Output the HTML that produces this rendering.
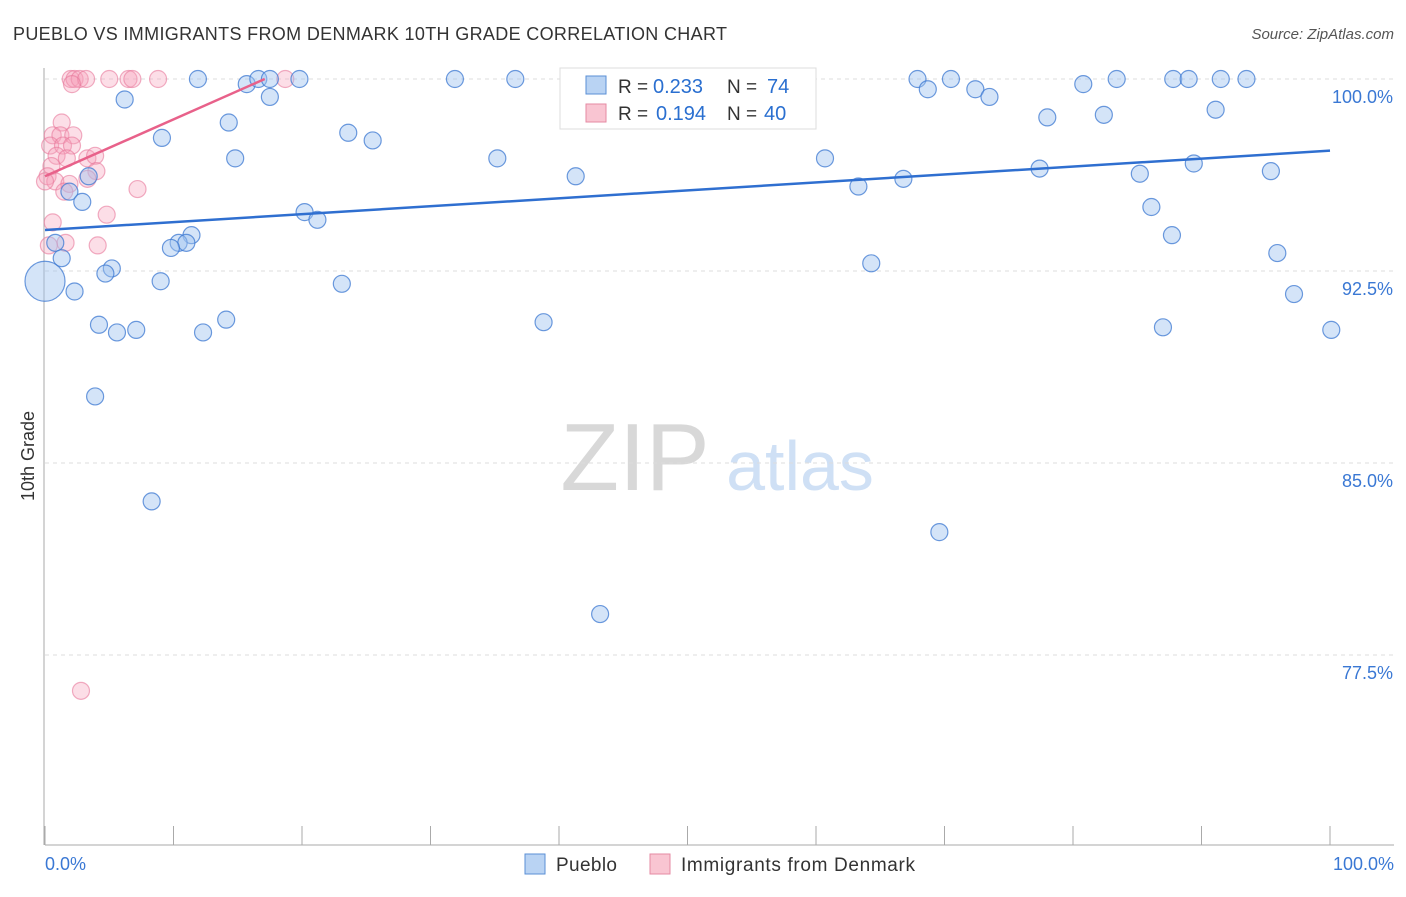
<!DOCTYPE html>
<html><head><meta charset="utf-8"><style>
body{margin:0;background:#fff;font-family:"Liberation Sans",sans-serif;}
svg text{font-family:"Liberation Sans",sans-serif;}
</style></head><body>
<svg width="1406" height="892">
<text x="13" y="40" font-size="18" fill="#333" textLength="714">PUEBLO VS IMMIGRANTS FROM DENMARK 10TH GRADE CORRELATION CHART</text>
<text x="1394" y="39" font-size="15" fill="#555" font-style="italic" text-anchor="end">Source: ZipAtlas.com</text>
<text x="0" y="0" font-size="18" fill="#333" transform="translate(34,456) rotate(-90)" text-anchor="middle">10th Grade</text>
<text x="635" y="490" font-size="96" fill="#d8d8d8" text-anchor="middle" font-family="Liberation Serif">ZIP</text>
<text x="800" y="490" font-size="70" fill="#cfe0f5" text-anchor="middle">atlas</text>
<g id="grid"></g><g id="axes"></g>
<g id="pts"></g><g id="lines"></g>
<g>
<rect x="560" y="68" width="256" height="61" fill="#fff" stroke="#ddd"/>
<rect x="586" y="76" width="20" height="18" fill="#b9d3f3" stroke="#5a8fd6"/>
<text x="618" y="93" font-size="19" fill="#333">R =</text>
<text x="653" y="93" font-size="20" fill="#2a6fd0">0.233</text>
<text x="727" y="93" font-size="19" fill="#333">N =</text>
<text x="767" y="93" font-size="20" fill="#2a6fd0">74</text>
<rect x="586" y="104" width="20" height="18" fill="#f9c5d2" stroke="#e58aa3"/>
<text x="618" y="120" font-size="19" fill="#333">R =</text>
<text x="656" y="120" font-size="20" fill="#2a6fd0">0.194</text>
<text x="727" y="120" font-size="19" fill="#333">N =</text>
<text x="764" y="120" font-size="20" fill="#2a6fd0">40</text>
</g>
<g>
<rect x="525" y="854" width="20" height="20" fill="#b9d3f3" stroke="#5a8fd6"/>
<text x="556" y="871" font-size="19" fill="#333" textLength="61">Pueblo</text>
<rect x="650" y="854" width="20" height="20" fill="#f9c5d2" stroke="#e58aa3"/>
<text x="681" y="871" font-size="19" fill="#333" textLength="234">Immigrants from Denmark</text>
</g>
</svg>
<script>
const yTicks=[100,92.5,85,77.5];
const yTickLabels=["100.0%","92.5%","85.0%","77.5%"];
const blueX=[11.9,15.7,16.6,17.5,19.8,31.9,36.6,42.3,45.7,46.9,67.9,68.7,70.5,72.4,73.5,78,80.8,82.4,83.4,87.8,89,91.5,93.5,91.1,6.2,17.5,14.3,9.1,23.6,25.5,14.8,35.2,60.7,77.4,89.4,95.4,3.4,1.9,2.9,41.3,63.3,66.8,85.2,86.1,20.2,21.2,0.8,11.4,10.4,11,9.8,1.3,87.7,95.9,64.3,5.2,4.7,9,23.1,0,2.3,97.2,4.2,14.1,38.8,5.6,7.1,12.3,87,100.1,3.9,8.3,69.6,43.2];
const blueY=[100,99.8,100,100,100,100,100,100,100,100,100,99.6,100,99.6,99.3,98.5,99.8,98.6,100,100,100,100,100,98.8,99.2,99.3,98.3,97.7,97.9,97.6,96.9,96.9,96.9,96.5,96.7,96.4,96.2,95.6,95.2,96.2,95.8,96.1,96.3,95,94.8,94.5,93.6,93.9,93.6,93.6,93.4,93,93.9,93.2,92.8,92.6,92.4,92.1,92,92.1,91.7,91.6,90.4,90.6,90.5,90.1,90.2,90.1,90.3,90.2,87.6,83.5,82.3,79.1];
const pinkX=[2,2.3,2.7,3.2,5,6.5,6.8,8.8,18.7,2.1,1.3,0.6,1.2,2.2,0.4,1.4,2.1,0.9,1.7,3.3,3.9,0.5,4,0.2,0.8,1.9,7.2,1.5,3.3,4.8,0.6,4.1,1.6,0.3,2.8,0];
const pinkY=[100,100,100,100,100,100,100,100,100,99.8,98.3,97.8,97.8,97.8,97.4,97.4,97.4,97,96.9,96.9,97,96.6,96.4,96.2,96,95.9,95.7,95.6,96.1,94.7,94.4,93.5,93.6,93.5,76.1,96];
const W0=45,W1=1330,Y0=79,pxPer=25.6;
const xs=v=>W0+v/100*(W1-W0), ys=v=>Y0+(100-v)*pxPer;
const NS="http://www.w3.org/2000/svg";
function mk(t,a,p){const e=document.createElementNS(NS,t);for(const k in a)e.setAttribute(k,a[k]);p.appendChild(e);return e;}
const grid=document.getElementById('grid'),axes=document.getElementById('axes');
yTicks.forEach((t,i)=>{
 const g=mk('line',{x1:45,x2:1394,y1:ys(t),y2:ys(t),stroke:'#ddd','stroke-dasharray':'4,4'},grid);
 
 
 const l=mk('text',{x:1393,y:ys(t)+24,'font-size':18,fill:'#3a78d4','text-anchor':'end'},axes);l.textContent=yTickLabels[i];
 
 
});
const ax=mk('line',{x1:45,x2:1394,y1:845,y2:845,stroke:'#aaa'},axes);


const ay=mk('line',{x1:44,x2:44,y1:68,y2:845,stroke:'#aaa'},axes);


for(let i=0;i<=10;i++){const t=mk('line',{x1:xs(i*10),x2:xs(i*10),y1:826,y2:845,stroke:'#aaa'},axes);
 
 }
const xl0=mk('text',{x:45,y:870,'font-size':18,fill:'#3a78d4'},axes);xl0.textContent='0.0%';


const xl1=mk('text',{x:1394,y:870,'font-size':18,fill:'#3a78d4','text-anchor':'end'},axes);xl1.textContent='100.0%';


const pts=document.getElementById('pts');
pinkX.forEach((x,i)=>{const c=mk('circle',{cx:xs(x),cy:ys(pinkY[i]),r:8.5,fill:'rgba(245,160,185,0.35)',stroke:'rgba(232,120,155,0.6)','stroke-width':1.2},pts);
 
 });
blueX.forEach((x,i)=>{const big=(x===0&&blueY[i]>91.9&&blueY[i]<92.2);const c=mk('circle',{cx:xs(x),cy:ys(blueY[i]),r:big?20:8.5,fill:'rgba(160,195,240,0.45)',stroke:'rgba(60,120,210,0.75)','stroke-width':1.2},pts);
 
 });
const lines=document.getElementById('lines');
const bl=mk('line',{x1:xs(0),y1:ys(94.1),x2:xs(100),y2:ys(97.2),stroke:'#2f6fd0','stroke-width':2.5},lines);


const pl=mk('line',{x1:xs(0),y1:ys(96.2),x2:xs(17.1),y2:ys(100),stroke:'#e8618a','stroke-width':2.5},lines);


</script>
</body></html>
